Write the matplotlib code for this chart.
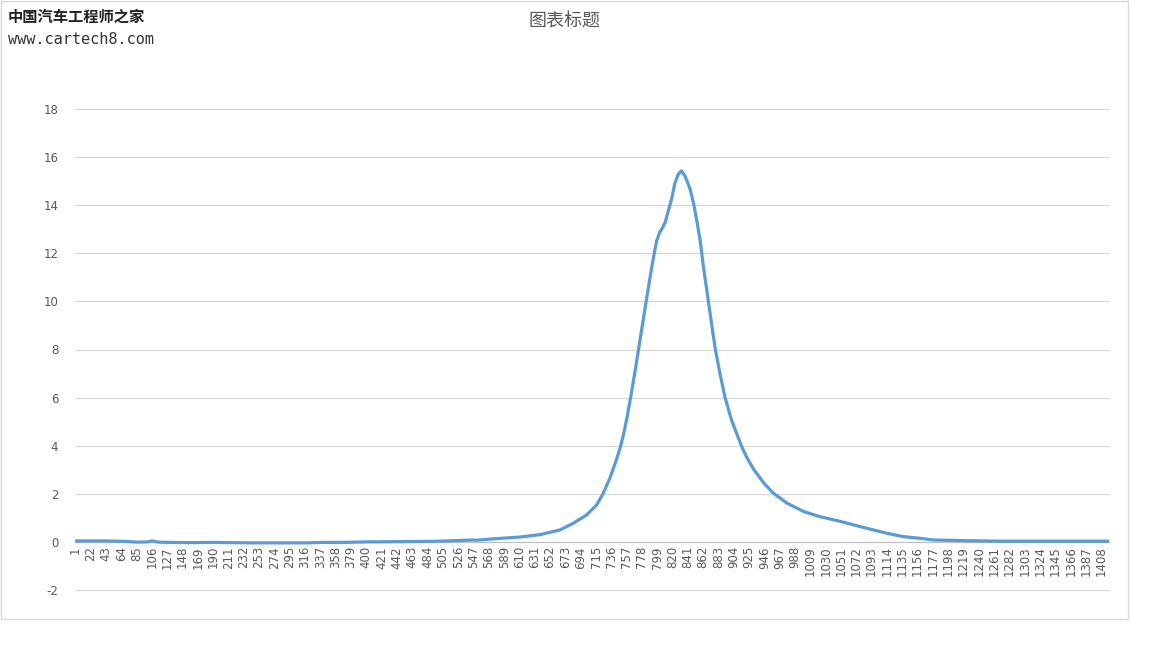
import matplotlib.pyplot as plt
from matplotlib.patches import Rectangle

# 读图得到的数据点 (类别序号, 数值)
cats = [1, 20, 40, 60, 70, 86, 100, 106, 115, 130, 160, 190, 211, 240, 280, 320,
        340, 370, 400, 440, 480, 500, 520, 547, 550, 580, 610, 638, 666, 684,
        702, 716, 725, 734, 743, 748, 753, 758, 763, 768, 773, 778, 783, 788,
        793, 798, 802, 806, 810, 814, 819, 823, 828, 832, 837, 844, 849, 853,
        858, 862, 867, 871, 875, 879, 885, 892, 901, 908, 915, 922, 931, 945,
        958, 977, 1000, 1022, 1045, 1068, 1091, 1114, 1136, 1159, 1178, 1224,
        1269, 1300, 1350, 1387, 1418]
vals = [0.04, 0.04, 0.04, 0.03, 0.02, -0.01, 0.0, 0.04, -0.01, -0.02, -0.03, -0.02,
        -0.03, -0.04, -0.04, -0.04, -0.02, -0.02, 0.0, 0.01, 0.02, 0.03, 0.05, 0.08,
        0.07, 0.14, 0.2, 0.3, 0.5, 0.78, 1.12, 1.54, 2.03, 2.65, 3.42, 3.9, 4.5,
        5.25, 6.1, 7.0, 7.95, 8.9, 9.85, 10.8, 11.7, 12.5, 12.85, 13.05, 13.3,
        13.75, 14.3, 14.9, 15.3, 15.43, 15.22, 14.67, 14.05, 13.4, 12.5, 11.5,
        10.45, 9.6, 8.75, 7.95, 7.0, 6.0, 5.05, 4.5, 3.95, 3.5, 3.03, 2.45, 2.03,
        1.61, 1.26, 1.05, 0.89, 0.71, 0.53, 0.36, 0.22, 0.15, 0.08, 0.05, 0.03,
        0.03, 0.03, 0.03, 0.03]

tick_labels = list(range(1, 1409, 21))
y_ticks = [-2, 0, 2, 4, 6, 8, 10, 12, 14, 16, 18]

W, H = 1152, 648
fig = plt.figure(figsize=(W / 100, H / 100), dpi=100)
fig.patch.set_facecolor('white')

# 图表区边框
fig.patches.append(Rectangle((0.5 / W, 1 - 619 / H), 1127 / W, 618.5 / H,
                             transform=fig.transFigure, fill=False,
                             edgecolor='#d9d9d9', linewidth=1))

ax = fig.add_axes([75 / W, 1 - 590 / H, (1109 - 75) / W, (590 - 109) / H])
ax.set_xlim(0.5, 1418.5)
ax.set_ylim(-2, 18)

for yv in y_ticks:
    ax.axhline(yv, color='#d9d9d9', linewidth=0.9, zorder=0, clip_on=False)

ax.plot(cats, vals, color='#5b9bd5', linewidth=2.3, solid_capstyle='round',
        solid_joinstyle='round', zorder=3)

for s in ['top', 'right', 'left']:
    ax.spines[s].set_visible(False)
ax.spines['bottom'].set_position(('data', 0))
ax.spines['bottom'].set_color('#bfbfbf')

ax.set_yticks(y_ticks)
ax.set_yticklabels([str(v) for v in y_ticks])
ax.set_xticks(tick_labels)
ax.set_xticklabels([str(v) for v in tick_labels], rotation=90)
ax.tick_params(axis='both', length=0, labelsize=8.5, colors='#595959')
ax.tick_params(axis='y', pad=12)
ax.tick_params(axis='x', pad=3)

fig.text(564 / W, 1 - 22 / H, '图表标题', ha='center', va='center',
         fontsize=13, color='#595959', family=['Noto Sans CJK SC', 'DejaVu Sans'])

# 水印
fig.text(8 / W, 1 - 17 / H, '中国汽车工程师之家', ha='left', va='center',
         fontsize=11, fontweight='bold', color='#222222',
         family=['Noto Sans CJK SC', 'DejaVu Sans'])
fig.text(8 / W, 1 - 39 / H, 'www.cartech8.com', ha='left', va='center',
         fontsize=11, color='#333333', family='DejaVu Sans Mono')

fig.savefig('out.png', dpi=100)
